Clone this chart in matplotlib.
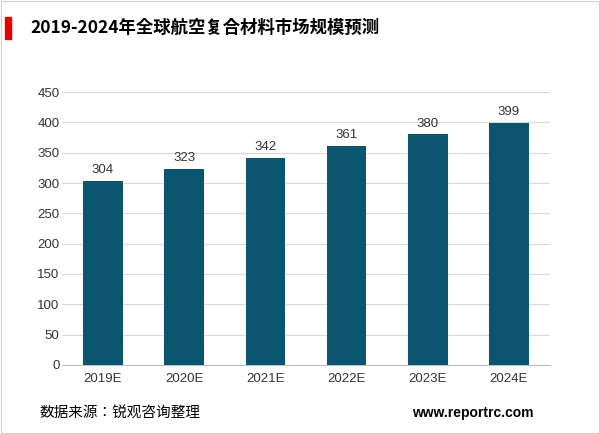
import matplotlib
matplotlib.use("Agg")
import matplotlib.pyplot as plt
from matplotlib.patches import Rectangle
from matplotlib import font_manager

categories = ["2019E", "2020E", "2021E", "2022E", "2023E", "2024E"]
values = [304, 323, 342, 361, 380, 399]
yticks = [0, 50, 100, 150, 200, 250, 300, 350, 400, 450]

names = {f.name for f in font_manager.fontManager.ttflist}
cjk = [n for n in ["Noto Sans CJK SC", "Noto Sans CJK JP", "Noto Sans CJK TC", "Noto Sans CJK KR",
                   "Noto Sans SC", "Noto Sans CJK"] if n in names]
if not cjk:
    cjk = [n for n in names if "CJK" in n]
cjkfam = cjk + ["DejaVu Sans"]
plt.rcParams["font.family"] = ["Liberation Sans"] + cjkfam

fig = plt.figure(figsize=(6, 4.34), dpi=100)
ax = fig.add_axes([0.104, 0.159, 0.812, 0.629])
x = range(len(categories))
ax.bar(x, values, width=0.49, color="#0b5570", zorder=3)
for i, v in zip(x, values):
    ax.text(i, v + 8, str(v), ha="center", va="bottom", fontsize=9.5, color="#333333")
ax.set_xticks(list(x))
ax.set_xticklabels(categories, fontsize=9.5, color="#333333")
ax.set_yticks(yticks)
ax.set_yticklabels([str(t) for t in yticks], fontsize=9.5, color="#333333")
ax.set_ylim(0, 450)
ax.set_xlim(-0.5, 5.5)
ax.grid(axis="y", color="#d9d9d9", linewidth=0.8, zorder=0)
for s in ["top", "right", "left"]:
    ax.spines[s].set_visible(False)
ax.spines["bottom"].set_color("#bfbfbf")
ax.tick_params(axis="x", length=0, pad=6)
ax.tick_params(axis="y", length=0, pad=2)

fig.patches.append(Rectangle((0.008, 0.91), 0.01, 0.05, transform=fig.transFigure, color="#e60000"))
fig.text(0.05, 0.935, "2019-2024年全球航空复合材料市场规模预测", fontsize=12.5, fontweight="bold",
         va="center", ha="left", fontfamily=cjkfam)
fig.text(0.065, 0.048, "数据来源：锐观咨询整理", fontsize=10.5, va="center", fontfamily=cjkfam)
fig.text(0.89, 0.048, "www.reportrc.com", fontsize=10, fontweight="bold", va="center", ha="right")
fig.patches.append(Rectangle((0.002, 0.002), 0.996, 0.996, transform=fig.transFigure,
                             fill=False, edgecolor="#d0d0d0", linewidth=0.8))
fig.savefig("out.png", dpi=100)
